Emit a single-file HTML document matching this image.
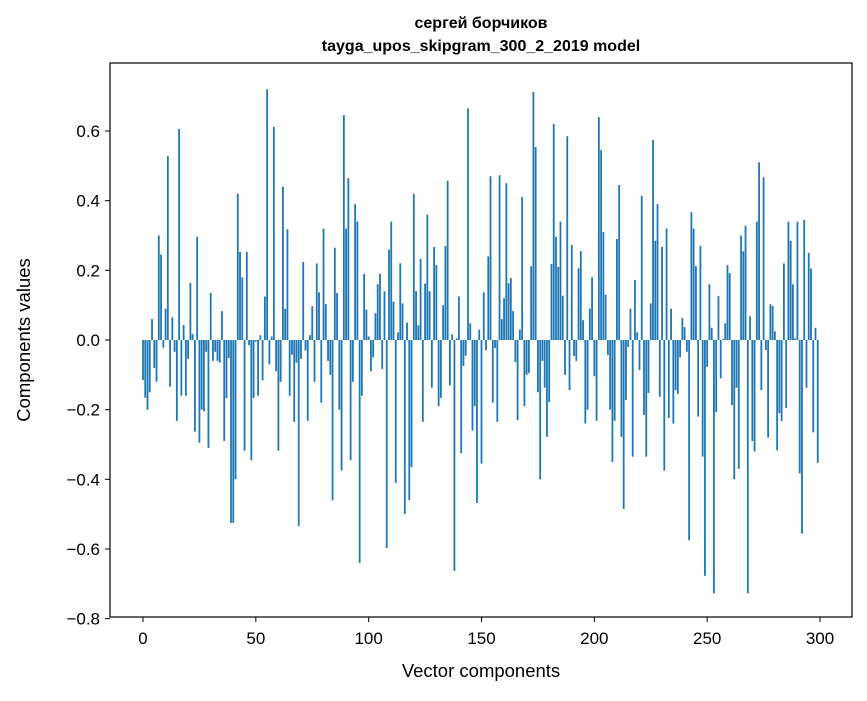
<!DOCTYPE html>
<html><head><meta charset="utf-8"><style>
body{margin:0;background:#fff;}
svg text{font-family:"Liberation Sans","DejaVu Sans",sans-serif;}
</style></head><body>
<svg id="chart" width="867" height="696" xmlns="http://www.w3.org/2000/svg">
<rect width="867" height="696" fill="#fff"/>
<text x="481" y="28" text-anchor="middle" font-size="16" font-weight="bold">сергей борчиков</text>
<text x="481" y="51" text-anchor="middle" font-size="16" font-weight="bold">tayga_upos_skipgram_300_2_2019 model</text>
<g id="bars"></g>
<g id="axes"></g>
<rect x="110" y="63" width="742" height="554" fill="none" stroke="#000" stroke-width="1.2"/>
<text x="481" y="677" text-anchor="middle" font-size="18.5">Vector components</text>
<text transform="translate(30,340) rotate(-90)" text-anchor="middle" font-size="18.5">Components values</text>
</svg>
<script>
const values=[-0.115,-0.166,-0.2,-0.15,0.06,-0.08,-0.12,0.30,0.245,-0.022,0.09,0.528,-0.134,0.065,-0.034,-0.232,0.606,-0.16,0.043,-0.16,
-0.054,0.164,0.017,-0.263,0.296,-0.295,-0.2,-0.205,-0.034,-0.31,0.135,-0.06,-0.034,-0.06,-0.065,0.083,-0.29,-0.167,-0.052,-0.525,
-0.525,-0.40,0.42,0.253,0.18,-0.318,0.253,-0.015,-0.345,-0.166,-0.005,-0.16,0.014,-0.116,0.125,0.72,-0.07,0.01,0.612,-0.09,
-0.318,-0.12,0.44,0.09,0.318,-0.16,-0.042,-0.235,-0.065,-0.534,-0.054,0.224,-0.03,-0.232,0.014,0.097,-0.12,0.22,0.137,-0.18,
0.32,0.103,-0.06,-0.1,-0.46,0.265,0.135,-0.2,-0.375,0.646,0.32,0.465,-0.345,-0.12,0.39,0.34,-0.64,-0.16,0.19,0.087,
0.01,-0.09,-0.05,0.077,0.16,0.19,-0.083,0.14,-0.597,0.26,0.34,0.11,-0.41,0.022,0.22,0.105,-0.5,0.05,-0.46,-0.365,
0.42,0.14,0.042,0.233,-0.235,0.162,0.36,0.14,-0.137,0.267,0.215,-0.19,-0.166,0.1,0.27,0.457,-0.13,0.016,-0.663,0.005,
0.125,-0.325,-0.075,-0.045,0.665,0.048,-0.26,-0.19,-0.468,0.03,-0.355,0.137,-0.03,0.24,0.47,-0.18,-0.023,-0.235,0.473,0.06,
0.12,0.45,0.163,0.178,0.083,-0.063,-0.23,0.03,0.41,-0.19,-0.1,-0.095,0.212,0.712,0.554,-0.15,-0.4,-0.06,-0.137,-0.278,
-0.178,0.218,0.62,0.296,0.21,0.34,0.127,-0.1,0.585,-0.144,0.273,-0.046,-0.06,0.206,0.255,0.057,-0.24,-0.2,0.09,0.18,
-0.104,-0.232,0.64,0.545,0.31,0.13,-0.043,-0.2,-0.35,-0.232,0.29,0.445,-0.278,-0.485,-0.172,-0.02,0.09,-0.335,0.172,0.022,
-0.086,0.414,-0.215,-0.335,-0.152,0.105,0.574,0.285,0.39,-0.163,0.267,-0.375,0.32,-0.224,0.09,-0.24,-0.144,-0.155,-0.05,0.063,
0.037,-0.034,-0.575,0.367,0.32,0.212,-0.22,0.27,-0.335,-0.677,-0.077,0.16,0.035,-0.727,-0.207,0.126,-0.11,0.003,0.048,0.215,
0.192,-0.187,-0.4,-0.137,-0.37,0.3,0.255,0.328,-0.727,0.068,-0.29,-0.32,0.34,0.51,-0.144,0.467,-0.029,-0.28,0.103,0.098,
0.025,-0.317,-0.21,-0.233,0.22,-0.195,0.34,0.285,0.16,0.005,0.34,-0.383,-0.556,0.345,-0.137,0.25,0.205,-0.265,0.035,-0.353];
const xTicks=[0,50,100,150,200,250,300];
const yTicks=[0.6,0.4,0.2,0,-0.2,-0.4,-0.6,-0.8];
const NS="http://www.w3.org/2000/svg";
function xs(v){return 143+v*2.2567;}
function ys(v){return 340-v*348.3;}
const bars=document.getElementById('bars');
values.forEach((v,i)=>{
 const r=document.createElementNS(NS,'rect');
 
 
 const y0=ys(0),y1=ys(v);
 r.setAttribute('x',xs(i-0.4));
 r.setAttribute('width',0.8*2.2567);
 r.setAttribute('y',Math.min(y0,y1));
 r.setAttribute('height',Math.max(Math.abs(y1-y0),0.5));
 r.setAttribute('fill','#1f77b4');
 bars.appendChild(r);
});
const axes=document.getElementById('axes');
xTicks.forEach(t=>{
 const l=document.createElementNS(NS,'line');
 
 
 l.setAttribute('x1',xs(t));l.setAttribute('x2',xs(t));
 l.setAttribute('y1',617);l.setAttribute('y2',622);
 l.setAttribute('stroke','#000');
 axes.appendChild(l);
 const tx=document.createElementNS(NS,'text');
 
 
 tx.setAttribute('x',xs(t));tx.setAttribute('y',644);
 tx.setAttribute('text-anchor','middle');tx.setAttribute('font-size','17');
 tx.textContent=t;
 axes.appendChild(tx);
});
yTicks.forEach(t=>{
 const l=document.createElementNS(NS,'line');
 
 
 l.setAttribute('x1',105);l.setAttribute('x2',110);
 l.setAttribute('y1',ys(t));l.setAttribute('y2',ys(t));
 l.setAttribute('stroke','#000');
 axes.appendChild(l);
 const tx=document.createElementNS(NS,'text');
 
 
 tx.setAttribute('x',100);tx.setAttribute('y',ys(t)+6);
 tx.setAttribute('text-anchor','end');tx.setAttribute('font-size','17');
 tx.textContent=(t<0?'\u2212':'')+Math.abs(t).toFixed(1);
 axes.appendChild(tx);
});
</script>
</body></html>
